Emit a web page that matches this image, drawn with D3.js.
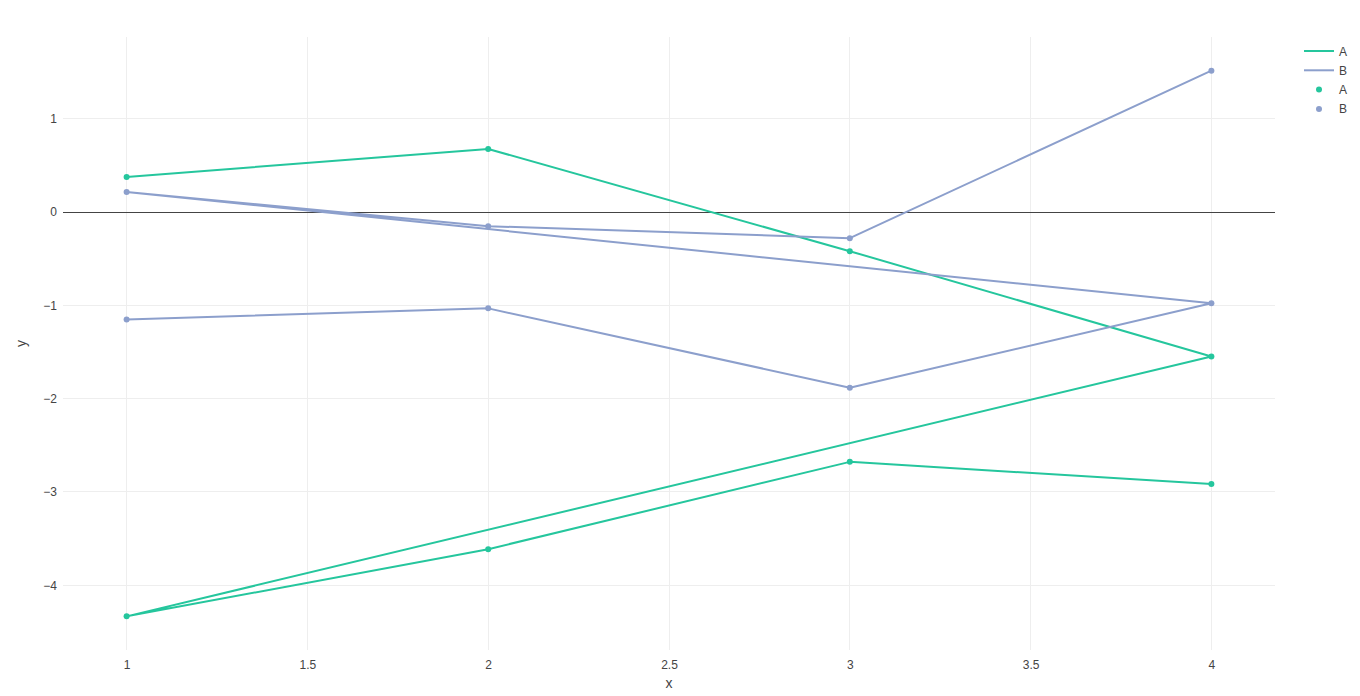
<!DOCTYPE html>
<html>
<head>
<meta charset="utf-8">
<script src="https://cdn.jsdelivr.net/npm/d3@7"></script>
<style>
  body { margin: 0; background: #fff; }
  text { font-family: "Liberation Sans", Arial, sans-serif; }
</style>
</head>
<body>
<svg id="chart" width="1360" height="696"></svg>
<script>
// data, in the order the points were given
const xValues = [1, 2, 3, 4, 1, 2, 3, 4];
const seriesA = [0.376, 0.677, -0.419, -1.548, -4.333, -3.613, -2.677, -2.914];
const seriesB = [-1.151, -1.032, -1.882, -0.978, 0.215, -0.151, -0.280, 1.516];
const seriesNames = ["A", "B"];
const xTicks = [1, 1.5, 2, 2.5, 3, 3.5, 4];
const yTicks = [-4, -3, -2, -1, 0, 1];

const COLORS = { A: "#25c69d", B: "#8c9fcc" };
const MARGIN = { TOP: 37, RIGHT: 85, BOTTOM: 46, LEFT: 63 };
const WIDTH = 1360 - MARGIN.LEFT - MARGIN.RIGHT;
const HEIGHT = 696 - MARGIN.TOP - MARGIN.BOTTOM;

const svg = d3.select("#chart");
const g = svg.append("g").attr("transform", `translate(${MARGIN.LEFT},${MARGIN.TOP})`);

const series = seriesNames.map((name, i) => ({
    name,
    points: xValues.map((x, j) => ({ x, y: (i === 0 ? seriesA : seriesB)[j] }))
}));

// plotly-ish autorange: 5% of axis length plus marker radius
function padDomain(values, len) {
    const [lo, hi] = d3.extent(values);
    const pad = 0.05 * len + 3;
    const k = (hi - lo) / (len - 2 * pad);
    return [lo - pad * k, hi + pad * k];
}

const xScale = d3.scaleLinear()
    .domain(padDomain(xValues, WIDTH))
    .range([0, WIDTH]);

const yScale = d3.scaleLinear()
    .domain(padDomain(seriesA.concat(seriesB), HEIGHT))
    .range([HEIGHT, 0]);

const fmt = d => (d < 0 ? "\u2212" : "") + Math.abs(d);

// grid
g.append("g")
    .selectAll("line")
    .data(xTicks)
    .join("line")
    .attr("x1", d => xScale(d)).attr("x2", d => xScale(d))
    .attr("y1", 0).attr("y2", HEIGHT)
    .attr("stroke", "#eee")
    .attr("shape-rendering", "crispEdges");

g.append("g")
    .selectAll("line")
    .data(yTicks.filter(d => d !== 0))
    .join("line")
    .attr("x1", 0).attr("x2", WIDTH)
    .attr("y1", d => yScale(d)).attr("y2", d => yScale(d))
    .attr("stroke", "#eee")
    .attr("shape-rendering", "crispEdges");

// zero line
g.append("line")
    .attr("x1", 0).attr("x2", WIDTH)
    .attr("y1", yScale(0)).attr("y2", yScale(0))
    .attr("stroke", "#444")
    .attr("stroke-width", 1)
    .attr("shape-rendering", "crispEdges");

// axes (labels only)
const xAxis = g.append("g")
    .attr("transform", `translate(0,${HEIGHT})`)
    .call(d3.axisBottom(xScale).tickValues(xTicks).tickFormat(fmt).tickSize(0).tickPadding(10));
const yAxis = g.append("g")
    .call(d3.axisLeft(yScale).tickValues(yTicks).tickFormat(fmt).tickSize(0).tickPadding(6));
[xAxis, yAxis].forEach(ax => {
    ax.select(".domain").remove();
    ax.selectAll("text")
        .attr("font-family", '"Liberation Sans", Arial, sans-serif')
        .attr("font-size", 12)
        .attr("fill", "#444");
});

// axis titles
svg.append("text")
    .attr("x", MARGIN.LEFT + WIDTH / 2)
    .attr("y", 688)
    .attr("text-anchor", "middle")
    .attr("font-size", 14)
    .attr("fill", "#444")
    .text("x");
svg.append("text")
    .attr("transform", `translate(26,${MARGIN.TOP + HEIGHT / 2}) rotate(-90)`)
    .attr("text-anchor", "middle")
    .attr("font-size", 14)
    .attr("fill", "#444")
    .text("y");

// lines
const line = d3.line().x(d => xScale(d.x)).y(d => yScale(d.y));
series.forEach(s => {
    g.append("path")
        .datum(s.points)
        .attr("fill", "none")
        .attr("stroke", COLORS[s.name])
        .attr("stroke-width", 2)
        .attr("stroke-linejoin", "round")
        .attr("d", line);
});

// markers
series.forEach(s => {
    g.append("g")
        .selectAll("circle")
        .data(s.points)
        .join("circle")
        .attr("cx", d => xScale(d.x))
        .attr("cy", d => yScale(d.y))
        .attr("r", 3)
        .attr("fill", COLORS[s.name]);
});

// legend: line traces then marker traces
const legendItems = [
    { name: "A", type: "line" },
    { name: "B", type: "line" },
    { name: "A", type: "marker" },
    { name: "B", type: "marker" }
];
const legend = svg.append("g").attr("transform", "translate(1304,51)");
legendItems.forEach((d, i) => {
    const row = legend.append("g").attr("transform", `translate(0,${i * 19.3})`);
    if (d.type === "line") {
        row.append("line")
            .attr("x1", 0).attr("x2", 30)
            .attr("stroke", COLORS[d.name])
            .attr("stroke-width", 2);
    } else {
        row.append("circle")
            .attr("cx", 15).attr("r", 3)
            .attr("fill", COLORS[d.name]);
    }
    row.append("text")
        .attr("x", 35)
        .attr("y", 4.5)
        .attr("font-size", 12)
        .attr("fill", "#444")
        .text(d.name);
});
</script>
</body>
</html>
